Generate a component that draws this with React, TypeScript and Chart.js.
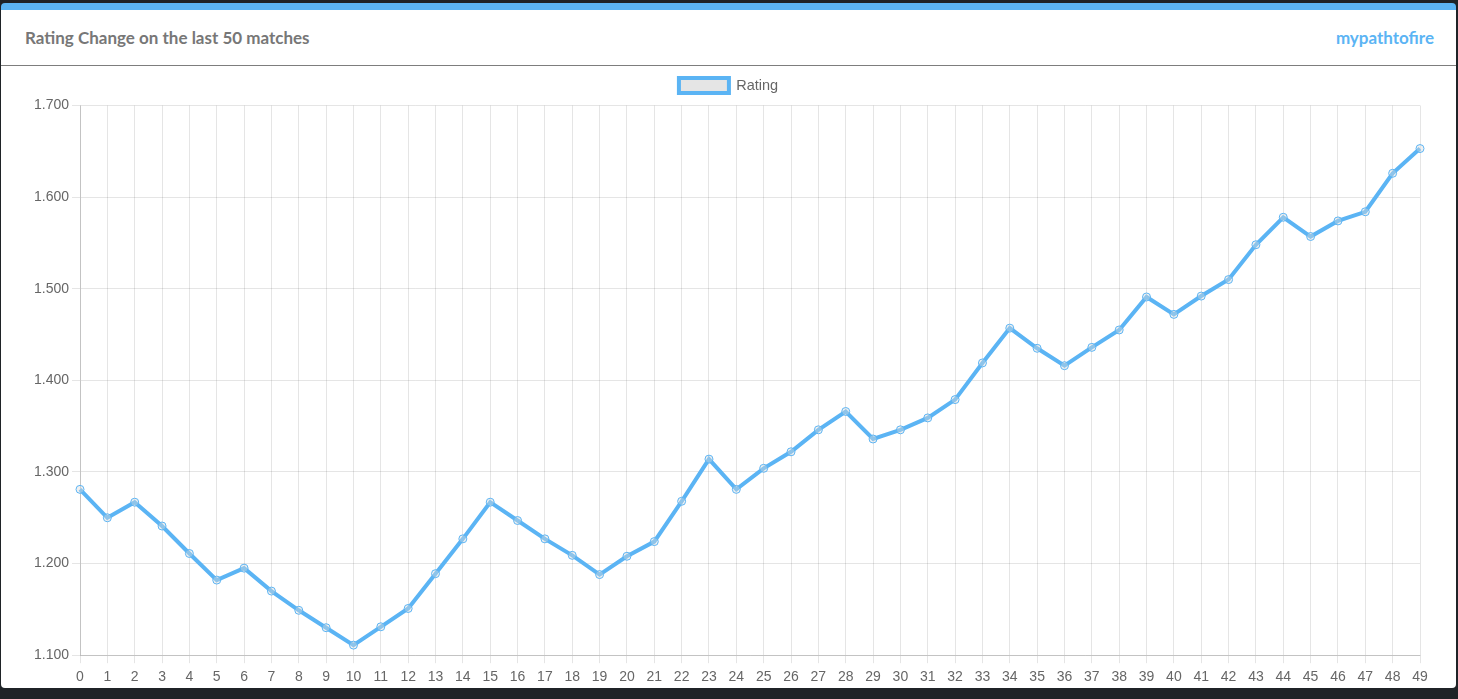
import React, { useEffect, useRef } from "react";
import { Chart, registerables } from "chart.js";

Chart.register(...registerables);

const matchLabels: string[] = Array.from({ length: 50 }, (_, i) => String(i));
const ratingValues: number[] = [
  1281, 1250, 1267, 1241, 1211, 1182, 1195, 1170, 1149, 1130,
  1111, 1131, 1151, 1189, 1227, 1267, 1247, 1227, 1209, 1188,
  1208, 1224, 1268, 1314, 1281, 1304, 1322, 1346, 1366, 1336,
  1346, 1359, 1379, 1419, 1457, 1435, 1416, 1436, 1455, 1491,
  1472, 1492, 1510, 1548, 1578, 1557, 1574, 1584, 1626, 1653,
];
const yMin = 1100;
const yMax = 1700;
const yStep = 100;
const titleText = "Rating Change on the last 50 matches";
const brandText = "mypathtofire";
const seriesName = "Rating";

const BLUE = "#5bb4f4";
const FONT = "'Liberation Sans', Arial, sans-serif";

function formatThousands(v: number): string {
  const s = String(Math.round(v));
  return s.replace(/\B(?=(\d{3})+(?!\d))/g, ".");
}

export default function App() {
  const canvasRef = useRef<HTMLCanvasElement | null>(null);

  useEffect(() => {
    document.body.style.margin = "0";
    document.body.style.background = "#1f2327";
    const ctx = canvasRef.current;
    if (!ctx) return;
    const chart = new Chart(ctx, {
      type: "line",
      data: {
        labels: matchLabels,
        datasets: [
          {
            label: seriesName,
            data: ratingValues,
            borderColor: BLUE,
            backgroundColor: "rgba(220,220,220,0.75)",
            borderWidth: 4,
            fill: false,
            tension: 0,
            pointRadius: 4,
            pointBorderWidth: 1,
            pointBorderColor: BLUE,
            pointBackgroundColor: "rgba(220,220,220,0.4)",
          },
        ],
      },
      options: {
        animation: false,
        responsive: true,
        maintainAspectRatio: false,
        layout: { padding: { top: 0, right: 0, bottom: 0, left: 0 } },
        plugins: {
          legend: {
            display: true,
            position: "top",
            labels: {
              boxWidth: 50,
              boxHeight: 15,
              padding: 12,
              color: "#666",
              font: { family: FONT, size: 14.5 },
            },
          },
          tooltip: { enabled: false },
        },
        scales: {
          x: {
            grid: { color: "rgba(0,0,0,0.1)", tickLength: 8 },
            border: { color: "rgba(0,0,0,0.15)" },
            ticks: {
              color: "#666",
              maxRotation: 0,
              autoSkip: false,
              padding: 6,
              font: { family: FONT, size: 14 },
            },
          },
          xTop: {
            type: "category",
            position: "top",
            display: true,
            afterFit: (scale: any) => {
              scale.height = 2.5;
            },
            grid: { display: false, drawTicks: false },
            border: { display: false },
            ticks: { display: false },
          },
          y: {
            min: yMin,
            max: yMax,
            afterFit: (scale: any) => {
              scale.width = 79;
            },
            grid: { color: "rgba(0,0,0,0.1)", tickLength: 8 },
            border: { color: "rgba(0,0,0,0.15)" },
            ticks: {
              stepSize: yStep,
              color: "#666",
              font: { family: FONT, size: 14 },
              callback: (v: any) => formatThousands(Number(v)),
            },
          },
          yRight: {
            position: "right",
            display: true,
            min: yMin,
            max: yMax,
            afterFit: (scale: any) => {
              scale.width = 36;
            },
            grid: { display: false, drawTicks: false },
            border: { display: false },
            ticks: { display: false },
          },
        },
      },
    });
    return () => chart.destroy();
  }, []);

  return (
    <div style={{ position: "relative", width: 1458, height: 699, background: "#1f2327", overflow: "hidden" }}>
      <div
        style={{
          position: "absolute",
          left: 1,
          top: 3,
          width: 1455,
          height: 685,
          background: "#fff",
          borderTop: `7px solid ${BLUE}`,
          borderRadius: 4,
          boxSizing: "border-box",
          overflow: "hidden",
        }}
      >
        <div
          style={{
            height: 55,
            borderBottom: "1px solid #7d7d7d",
            display: "flex",
            alignItems: "center",
            justifyContent: "space-between",
            padding: "0 22px 0 24px",
            fontFamily: "Lato, 'Open Sans', sans-serif",
            fontWeight: 700,
            fontSize: 17,
          }}
        >
          <span style={{ color: "#777" }}>{titleText}</span>
          <span style={{ color: BLUE }}>{brandText}</span>
        </div>
        <div style={{ position: "relative", width: 1455, height: 626 }}>
          <canvas ref={canvasRef} />
        </div>
      </div>
    </div>
  );
}
